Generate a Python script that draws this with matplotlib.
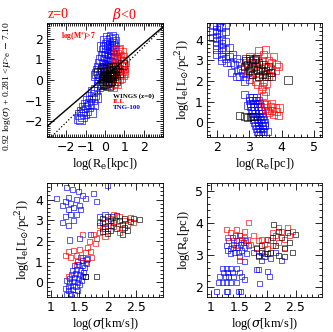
import numpy as np
import matplotlib
matplotlib.use("Agg")
import matplotlib.pyplot as plt
from matplotlib.ticker import MultipleLocator, FixedLocator

plt.rcParams['font.family'] = ['Liberation Serif', 'DejaVu Serif']
plt.rcParams['mathtext.fontset'] = 'dejavuserif'

# ---- panel 1: log(Re[kpc]) vs FP combination ----
tl_blue = [(0.35, 2.1), (0.45, 2.0), (0.3, 1.95), (0.5, 1.85), (0.2, 1.8), (0.4, 1.75), (0.1, 1.7),
           (0.3, 1.65), (0.45, 1.6), (0.0, 1.55), (0.2, 1.5), (0.35, 1.45), (-0.1, 1.4), (0.1, 1.35),
           (0.25, 1.3), (0.4, 1.25), (-0.15, 1.2), (0.05, 1.15), (0.2, 1.1), (0.35, 1.05), (-0.25, 1.0),
           (-0.05, 0.95), (0.15, 0.9), (0.3, 0.85), (-0.3, 0.8), (-0.1, 0.75), (0.1, 0.7), (0.25, 0.65),
           (-0.35, 0.6), (-0.15, 0.55), (0.05, 0.5), (-0.4, 0.45), (-0.2, 0.4), (0.0, 0.35), (-0.45, 0.3),
           (-0.25, 0.2), (-0.05, 0.15), (-0.3, 0.05), (-0.1, 0.0), (-0.35, -0.1), (-0.15, -0.15),
           (0.05, -0.2), (-0.5, 0.2), (0.5, 1.4), (0.55, 1.1), (-0.2, 1.6), (0.0, 1.9), (0.15, 2.05),
           (-0.35, -0.3), (-0.5, -0.45), (-0.65, -0.55), (-0.55, -0.7), (-0.75, -0.8), (-0.65, -0.95),
           (-0.9, -1.0), (-0.8, -1.15), (-1.0, -1.2), (-0.85, -1.3), (-1.1, -1.35), (-0.95, -1.45),
           (-1.2, -1.5), (-1.05, -1.6), (-1.3, -1.65), (-1.15, -1.75), (-1.35, -1.85), (-1.25, -1.9),
           (-0.7, -1.55), (-0.6, -1.2), (-0.45, -0.85)]
tl_red = [(0.7, 1.45), (0.85, 1.35), (0.6, 1.25), (0.75, 1.15), (0.9, 1.1), (0.55, 1.0), (0.7, 0.95),
          (0.85, 0.85), (0.45, 0.8), (0.6, 0.75), (0.8, 0.65), (0.95, 0.6), (0.5, 0.55), (0.65, 0.5),
          (0.85, 0.45), (0.4, 0.4), (0.55, 0.3), (0.75, 0.3), (0.9, 0.25), (0.35, 0.2), (0.5, 0.1),
          (0.7, 0.05), (0.3, 0.0), (0.45, -0.1), (0.6, -0.15), (0.25, -0.2), (0.4, -0.3), (0.8, 0.1),
          (1.0, 0.9), (0.65, 1.4), (0.95, 0.35), (0.2, 0.3)]
tl_black = [(0.0, 0.1), (0.1, 0.2), (0.2, 0.15), (0.3, 0.25), (0.15, 0.0), (0.25, -0.05), (0.35, 0.1),
            (0.4, 0.3), (0.05, 0.35), (0.2, 0.4), (-0.1, 0.0), (-0.05, -0.15), (0.1, -0.1), (0.3, 0.45),
            (0.45, 0.2), (0.5, 0.45), (0.6, 0.6), (0.9, 0.75), (-0.35, 0.35), (-0.15, 0.5), (0.0, 0.6),
            (0.3, 0.0), (0.2, -0.25), (0.55, 0.0), (0.7, 0.35), (-0.2, -0.2), (0.35, 0.6), (0.15, 0.55)]
# fit lines (slope, intercept)
fit_solid = (0.80, 0.165)
fit_dotted = (0.911, -0.215)

# ---- panel 2: log(Re[pc]) vs log(Ie) ----
tr_blue = [(1.88, 4.7), (1.88, 4.4), (1.88, 4.1), (2.0, 4.7), (2.0, 4.5), (2.0, 4.3), (2.0, 4.1), (2.0, 3.9),
           (2.0, 3.7), (2.0, 3.5), (2.0, 3.3), (2.15, 4.6), (2.15, 4.3), (2.15, 4.0), (2.15, 3.8), (2.15, 3.6),
           (2.15, 3.4), (2.15, 3.2), (2.15, 3.0), (2.27, 4.7), (2.27, 4.4), (2.27, 3.9), (2.27, 3.5),
           (2.27, 3.1), (2.3, 2.9), (2.4, 3.6), (2.4, 3.2), (2.42, 2.9), (2.5, 3.3), (2.6, 3.1), (2.55, 2.8),
           (2.7, 2.9), (2.75, 2.6), (2.65, 2.5), (2.8, 2.4), (2.9, 2.2), (2.85, 2.0), (2.95, 2.4), (3.0, 2.1),
           (2.6, 2.2), (2.45, 2.4), (2.7, 2.2), (2.9, 3.1), (3.05, 3.0), (2.87, 1.35),
           (3.02, 1.2), (3.12, 1.2), (3.22, 1.2), (3.0, 1.05), (3.1, 1.05), (3.2, 1.05), (3.3, 1.05),
           (3.05, 0.9), (3.15, 0.9), (3.25, 0.9), (3.32, 0.9), (3.05, 0.75), (3.15, 0.75), (3.25, 0.75),
           (3.35, 0.75), (3.08, 0.6), (3.18, 0.6), (3.28, 0.6), (3.38, 0.6), (3.1, 0.45), (3.2, 0.45),
           (3.3, 0.45), (3.4, 0.45), (3.12, 0.3), (3.22, 0.3), (3.32, 0.3), (3.42, 0.3), (3.15, 0.15),
           (3.25, 0.15), (3.35, 0.15), (3.45, 0.15), (3.18, 0.0), (3.28, 0.0), (3.38, 0.0), (3.46, 0.0),
           (3.2, -0.15), (3.3, -0.15), (3.4, -0.15), (3.48, -0.15), (3.22, -0.3), (3.32, -0.3), (3.42, -0.3),
           (3.25, -0.45), (3.35, -0.45), (3.45, -0.45), (3.3, -0.6), (3.4, -0.6), (2.95, 0.8), (3.58, -0.43)]
tr_red = [(2.9, 2.9), (3.0, 3.2), (3.1, 2.7), (3.15, 3.0), (3.2, 2.4), (3.25, 3.2), (3.3, 2.8), (3.35, 2.5),
          (3.4, 3.0), (3.45, 3.3), (3.5, 2.7), (3.55, 2.3), (3.6, 3.0), (3.65, 2.6), (3.7, 2.9), (3.75, 3.2),
          (3.8, 2.5), (3.85, 2.8), (3.3, 2.2), (3.45, 2.0), (3.4, 2.45), (3.6, 2.2), (3.7, 2.4), (3.5, 3.5),
          (3.3, 3.45), (3.2, 2.0), (3.05, 2.3), (2.95, 2.5), (3.55, 1.9), (3.4, 1.75), (3.5, 1.5), (3.45, 1.3),
          (3.38, 1.6), (3.9, 2.7), (3.25, 1.85), (3.45, 0.9), (3.5, 0.7), (3.55, 0.85), (3.6, 0.5),
          (3.65, 0.75), (3.7, 0.6), (3.75, 0.4), (3.8, 0.7), (3.85, 0.55), (3.9, 0.35), (3.7, 0.9),
          (3.58, 0.6), (3.95, 0.7)]
tr_black = [(2.9, 3.0), (2.95, 2.8), (3.0, 3.1), (3.05, 2.6), (3.1, 2.9), (3.15, 3.05), (3.2, 2.7), (3.25, 2.5),
            (3.3, 2.9), (3.35, 2.6), (3.4, 2.3), (3.45, 2.8), (3.5, 2.5), (3.55, 2.2), (3.6, 2.7), (3.65, 2.4),
            (3.7, 2.2), (3.0, 2.5), (3.1, 2.3), (3.2, 3.1), (3.3, 2.2), (2.85, 2.7), (4.2, 2.05),
            (2.7, 0.35), (2.85, 0.3), (2.95, 0.25), (3.05, 0.3), (3.15, 0.28)]

# ---- panel 3: log(sigma) vs log(Ie) ----
bl_blue = [(1.1, 4.05), (1.2, 3.7), (1.25, 3.9), (1.3, 3.5), (1.3, 4.1), (1.35, 3.3), (1.35, 3.8), (1.4, 3.0),
           (1.4, 3.6), (1.45, 4.0), (1.45, 3.3), (1.5, 3.7), (1.25, 3.2), (1.2, 2.9), (1.28, 4.6), (1.38, 4.5),
           (1.48, 4.4), (1.55, 4.2), (1.6, 4.05), (1.75, 4.3), (1.8, 3.9), (2.0, 4.7), (1.52, 3.5), (1.3, 2.75),
           (1.33, 2.05), (1.69, 2.3), (1.5, 2.1), (1.85, 3.2), (1.9, 2.9), (1.95, 3.3), (2.0, 3.0), (2.05, 2.75),
           (2.08, 3.2), (1.95, 2.6), (1.28, -0.6), (1.35, -0.55), (1.42, -0.6), (1.3, -0.4), (1.38, -0.35),
           (1.46, -0.4), (1.3, -0.2), (1.37, -0.15), (1.44, -0.2), (1.5, -0.1), (1.32, 0.0), (1.4, 0.05),
           (1.47, 0.0), (1.53, 0.1), (1.33, 0.2), (1.41, 0.25), (1.48, 0.2), (1.55, 0.3), (1.36, 0.4),
           (1.43, 0.45), (1.5, 0.4), (1.57, 0.5), (1.38, 0.6), (1.45, 0.65), (1.52, 0.6), (1.59, 0.7),
           (1.42, 0.8), (1.49, 0.85), (1.56, 0.8), (1.62, 0.9), (1.47, 1.0), (1.55, 1.05), (1.62, 1.1),
           (1.52, 1.2), (1.25, -0.3), (1.27, 0.1), (1.6, 0.3), (1.65, 1.15)]
bl_red = [(1.3, 0.3), (1.25, 1.3), (1.3, 1.5), (1.35, 1.2), (1.4, 1.55), (1.45, 1.3), (1.5, 1.6), (1.55, 1.2),
          (1.6, 1.45), (1.65, 1.7), (1.7, 1.5), (1.72, 1.2), (1.68, 2.0), (1.75, 2.3), (1.8, 2.1), (1.85, 2.4),
          (1.78, 1.9), (1.9, 2.6), (1.95, 2.9), (2.0, 2.5), (2.05, 3.1), (2.1, 2.7), (2.15, 2.95), (2.2, 3.2),
          (2.25, 2.6), (2.3, 3.0), (2.35, 2.8), (2.4, 3.15), (2.45, 2.9), (1.95, 2.2), (2.0, 2.75), (2.1, 3.3),
          (1.85, 2.75), (2.2, 2.4), (1.6, 0.95), (1.45, 0.85), (1.55, 2.3)]
bl_black = [(1.85, 2.9), (1.9, 3.1), (1.95, 2.7), (2.0, 3.2), (2.05, 2.5), (2.1, 2.9), (2.15, 2.6), (2.2, 3.0),
            (2.25, 2.8), (2.3, 3.1), (2.35, 2.5), (2.4, 2.95), (2.45, 3.1), (2.0, 2.35), (2.15, 3.25),
            (2.25, 2.3), (1.9, 2.45), (2.3, 2.65), (2.05, 3.0), (1.6, 0.3), (1.8, 0.29), (2.55, 3.05)]

# ---- panel 4: log(sigma) vs log(Re[pc]) ----
br_blue = [(1.28, 3.3), (1.32, 3.45), (1.35, 3.2), (1.38, 3.55), (1.4, 3.35), (1.42, 3.1), (1.45, 3.45),
           (1.47, 3.25), (1.5, 3.6), (1.52, 3.35), (1.55, 3.15), (1.58, 3.4), (1.6, 3.25), (1.63, 3.05),
           (1.66, 3.3), (1.35, 3.05), (1.3, 3.15), (1.43, 3.6), (1.55, 3.5), (1.4, 3.25), (1.48, 3.1),
           (1.62, 3.45), (1.2, 2.6), (1.28, 2.6), (1.35, 2.6), (1.45, 2.6), (1.22, 2.45), (1.3, 2.45),
           (1.38, 2.45), (1.5, 2.45), (1.15, 2.33), (1.25, 2.33), (1.32, 2.33), (1.4, 2.33), (1.55, 2.33),
           (1.6, 2.25), (1.13, 2.14), (1.2, 2.14), (1.28, 2.14), (1.35, 2.14), (1.45, 2.14), (1.1, 1.87),
           (1.27, 1.87), (1.3, 1.87), (1.48, 1.87), (1.53, 1.87), (1.8, 2.55), (1.85, 2.55), (1.86, 2.12),
           (2.0, 2.48), (2.03, 2.33), (1.75, 3.1), (1.85, 2.95), (1.95, 3.05), (2.05, 2.9), (2.15, 3.1),
           (2.25, 2.85), (1.9, 2.85), (1.6, 2.8), (1.5, 2.95)]
br_red = [(1.28, 3.8), (1.3, 3.55), (1.35, 3.7), (1.4, 3.45), (1.45, 3.8), (1.5, 3.6), (1.55, 3.4), (1.6, 3.75),
          (1.65, 3.5), (1.67, 4.02), (1.7, 3.35), (1.75, 3.6), (1.8, 3.25), (1.85, 3.45), (1.9, 3.15),
          (1.95, 3.35), (2.0, 3.2), (2.05, 3.45), (2.1, 3.3), (2.15, 3.6), (2.2, 3.4), (2.25, 3.75), (2.3, 3.5),
          (2.35, 3.85), (2.4, 3.6), (2.45, 3.75), (2.2, 3.85), (2.1, 3.7), (1.5, 2.84), (1.45, 3.3), (1.9, 3.5),
          (2.3, 3.25), (1.6, 3.55)]
br_black = [(1.8, 3.2), (1.85, 3.0), (1.9, 3.3), (1.95, 2.95), (2.0, 3.5), (2.05, 3.1), (2.11, 3.97),
            (2.15, 3.3), (2.2, 3.0), (2.25, 3.55), (2.3, 3.2), (2.35, 3.7), (2.4, 3.4), (2.45, 3.1),
            (2.1, 3.55), (2.2, 3.75), (2.0, 3.05), (2.3, 2.95), (2.5, 3.65), (1.9, 3.1)]

labels_legend = ['WINGS (z=0)', 'ILL', 'TNG-100']

fig = plt.figure(figsize=(3.33, 3.32), dpi=100)
W, H = 333.0, 332.0


def make_ax(x0, y0, x1, y1):
    return fig.add_axes([x0 / W, 1 - y1 / H, (x1 - x0) / W, (y1 - y0) / H])


def style(ax, xt, xmin, yt, ymin):
    ax.xaxis.set_major_locator(FixedLocator(xt))
    ax.xaxis.set_minor_locator(MultipleLocator(xmin))
    ax.yaxis.set_major_locator(FixedLocator(yt))
    ax.yaxis.set_minor_locator(MultipleLocator(ymin))
    ax.tick_params(which='both', direction='in', top=True, right=True, labelsize=9, width=0.6)
    ax.tick_params(which='major', length=5, pad=3)
    ax.tick_params(which='minor', length=2.5)
    for lab in ax.get_xticklabels() + ax.get_yticklabels():
        lab.set_family('DejaVu Sans')
        lab.set_fontsize(9)
    for s in ax.spines.values():
        s.set_linewidth(0.6)


def scat(ax, pts, color, s):
    a = np.array(pts)
    ax.scatter(a[:, 0], a[:, 1], marker='s', s=s, facecolors='none', edgecolors=color,
               linewidths=0.7, alpha=0.65)


ax1 = make_ax(47, 23, 163, 137)
ax2 = make_ax(207, 23, 322, 137)
ax3 = make_ax(47, 183, 163, 297)
ax4 = make_ax(207, 183, 322, 297)

# panel 1
scat(ax1, tl_blue, 'blue', 42)
scat(ax1, tl_red, 'red', 42)
scat(ax1, tl_black, 'black', 42)
xx = np.array([-3, 3])
ax1.plot(xx, fit_solid[0] * xx + fit_solid[1], color='black', lw=1.0)
ax1.plot(xx, fit_dotted[0] * xx + fit_dotted[1], color='black', lw=0.9, ls=':')
ax1.set_xlim(-3, 3)
ax1.set_ylim(-2.75, 2.75)
style(ax1, [-2, -1, 0, 1, 2], 0.1, [-2, -1, 0, 1, 2], 0.1)
ax1.set_xlabel(r'log(R$_{\rm e}$[kpc])', fontsize=9, labelpad=1)
ax1.set_ylabel(r'0.92 log($\sigma$) + 0.281 <$\mu$>$_{\rm e}$ $-$ 7.10', fontsize=6.8)
ax1.yaxis.set_label_coords(-0.29, 0.45)
ax1.text(0.12, 0.86, r'log(M$^{*}$)>7', color='red', fontsize=5.5, fontweight='bold',
         transform=ax1.transAxes)
ax1.text(0.57, 0.345, labels_legend[0], color='black', fontsize=5, fontweight='bold', transform=ax1.transAxes)
ax1.text(0.57, 0.295, labels_legend[1], color='red', fontsize=5, fontweight='bold', transform=ax1.transAxes)
ax1.text(0.57, 0.245, labels_legend[2], color='blue', fontsize=5, fontweight='bold', transform=ax1.transAxes)
fig.text(58 / W, 1 - 15 / H, 'z=0', color='red', fontsize=10, ha='center', va='center')
fig.text(124 / W, 1 - 15 / H, r'$\beta$<0', color='red', fontsize=10, ha='center', va='center')

# panel 2
scat(ax2, tr_blue, 'blue', 26)
scat(ax2, tr_red, 'red', 26)
scat(ax2, tr_black, 'black', 26)
ax2.set_xlim(1.7, 5.25)
ax2.set_ylim(-0.7, 4.8)
style(ax2, [2, 3, 4, 5], 0.2, [0, 1, 2, 3, 4], 0.2)
ax2.set_xlabel(r'log(R$_{\rm e}$[pc])', fontsize=9, labelpad=1)
ax2.set_ylabel(r'log(I$_{\rm e}$[L$_{\odot}$/pc$^2$])', fontsize=9, labelpad=2)

# panel 3
scat(ax3, bl_blue, 'blue', 13)
scat(ax3, bl_red, 'red', 13)
scat(ax3, bl_black, 'black', 13)
ax3.set_xlim(0.93, 2.97)
ax3.set_ylim(-0.7, 4.8)
style(ax3, [1, 1.5, 2, 2.5], 0.1, [0, 1, 2, 3, 4], 0.2)
ax3.set_xlabel(r'log($\sigma$[km/s])', fontsize=9, labelpad=1)
ax3.set_ylabel(r'log(I$_{\rm e}$[L$_{\odot}$/pc$^2$])', fontsize=9, labelpad=2)

# panel 4
scat(ax4, br_blue, 'blue', 13)
scat(ax4, br_red, 'red', 13)
scat(ax4, br_black, 'black', 13)
ax4.set_xlim(0.93, 2.97)
ax4.set_ylim(1.7, 5.25)
style(ax4, [1, 1.5, 2, 2.5], 0.1, [2, 3, 4, 5], 0.2)
ax4.set_xlabel(r'log($\sigma$[km/s])', fontsize=9, labelpad=1)
ax4.set_ylabel(r'log(R$_{\rm e}$[pc])', fontsize=9, labelpad=2)

for ax in [ax3, ax4]:
    ax.set_xticklabels(['1', '1.5', '2', '2.5'], family='DejaVu Sans', fontsize=9)

fig.savefig('out.png', dpi=100)
